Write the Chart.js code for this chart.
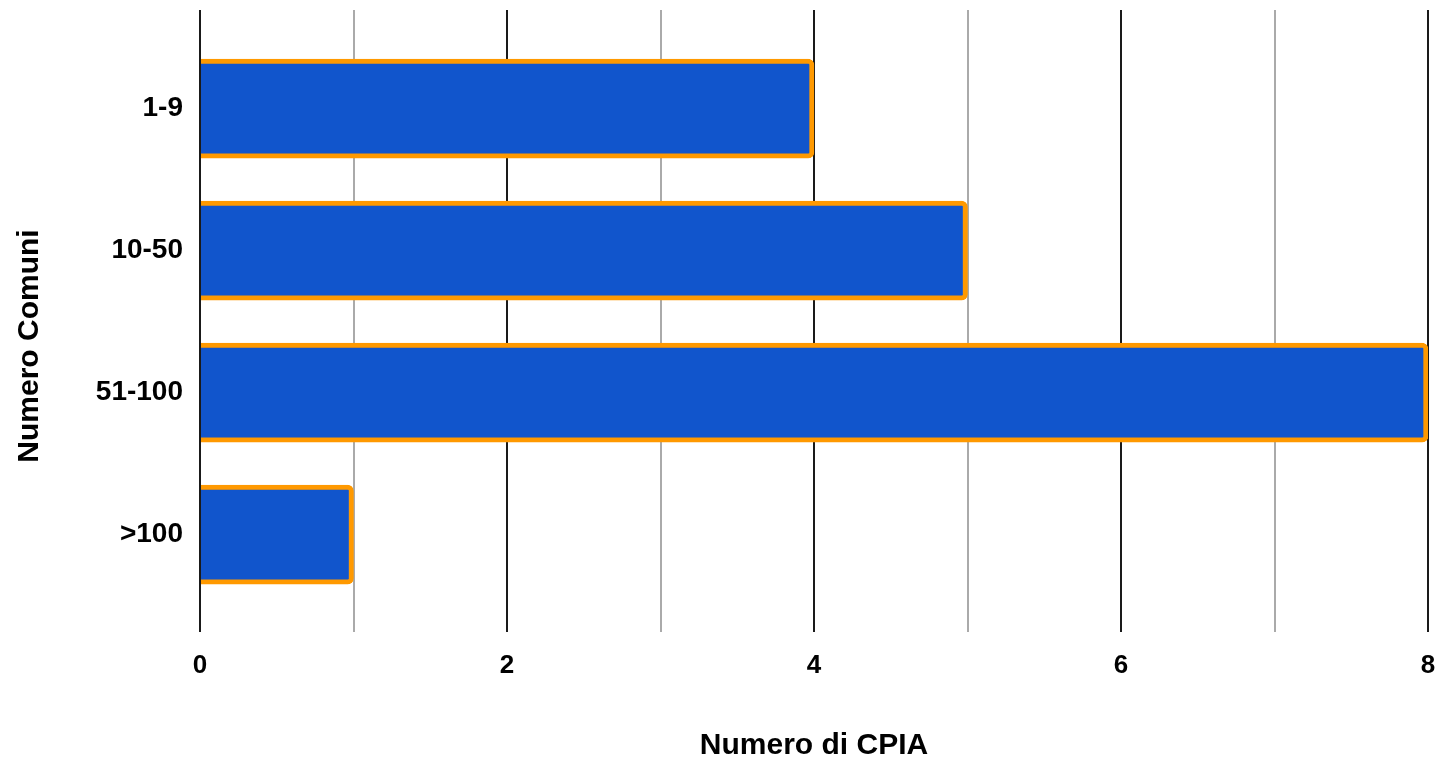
<!DOCTYPE html>
<html>
<head>
<meta charset="utf-8">
<script src="https://cdn.jsdelivr.net/npm/chart.js@4.4.1/dist/chart.umd.min.js"></script>
<style>
  body { margin: 0; background: #fff; }
  #wrap { width: 1439px; height: 759px; }
</style>
</head>
<body>
<div id="wrap"><canvas id="chart" width="1439" height="759"></canvas></div>
<script>
// --- Dati ---
const categories = ['1-9', '10-50', '51-100', '>100'];
const cpiaValues = [4, 5, 8, 1];
const xTicks = [0, 2, 4, 6, 8];

const FONT = '"Liberation Sans", Arial, sans-serif';

const ctx = document.getElementById('chart').getContext('2d');
new Chart(ctx, {
    type: 'bar',
    data: {
        datasets: [{
            data: cpiaValues.map((v, i) => ({ x: v, y: i })),
            backgroundColor: '#1155cc',
            borderColor: '#ff9900',
            borderWidth: 5,
            borderRadius: 6,
            borderSkipped: 'start',
            barThickness: 99
        }]
    },
    options: {
        indexAxis: 'y',
        responsive: false,
        animation: false,
        layout: { padding: { top: 10, right: 11, left: 0, bottom: 0 } },
        plugins: { legend: { display: false }, tooltip: { enabled: false } },
        scales: {
            x: {
                type: 'linear',
                min: 0,
                max: 8,
                ticks: {
                    stepSize: 1,
                    padding: 18,
                    color: '#000',
                    font: { family: FONT, size: 26, weight: 'bold' },
                    callback: v => xTicks.includes(v) ? v : ''
                },
                grid: {
                    drawTicks: false,
                    lineWidth: 2,
                    color: c => (c.tick && c.tick.value % 2 === 0) ? '#1a1a1a' : '#aaaaaa'
                },
                border: { display: false },
                title: {
                    display: true,
                    text: 'Numero di CPIA',
                    color: '#000',
                    font: { family: FONT, size: 30, weight: 'bold', lineHeight: 0.9 },
                    padding: { top: 0, bottom: 0 }
                },
                afterFit: s => { s.height = 127; s.paddingLeft = 0; s.paddingRight = 0; }
            },
            y: {
                type: 'linear',
                reverse: true,
                offset: false,
                min: -0.694,
                max: 3.686,
                afterBuildTicks: s => { s.ticks = categories.map((_, i) => ({ value: i })); },
                ticks: {
                    padding: 17,
                    color: '#000',
                    font: { family: FONT, size: 28, weight: 'bold' },
                    callback: v => categories[v]
                },
                grid: { display: false, drawTicks: false },
                border: { display: false },
                title: {
                    display: true,
                    // spazi finali per spostare il titolo più in basso, come nell'originale
                    text: 'Numero Comuni' + '\u00a0'.repeat(6),
                    color: '#000',
                    font: { family: FONT, size: 30, weight: 'bold', lineHeight: 1 },
                    padding: { top: 15, bottom: 0 }
                },
                afterFit: s => { s.width = 200; s.paddingTop = 0; s.paddingBottom = 0; }
            }
        }
    }
});
</script>
</body>
</html>
